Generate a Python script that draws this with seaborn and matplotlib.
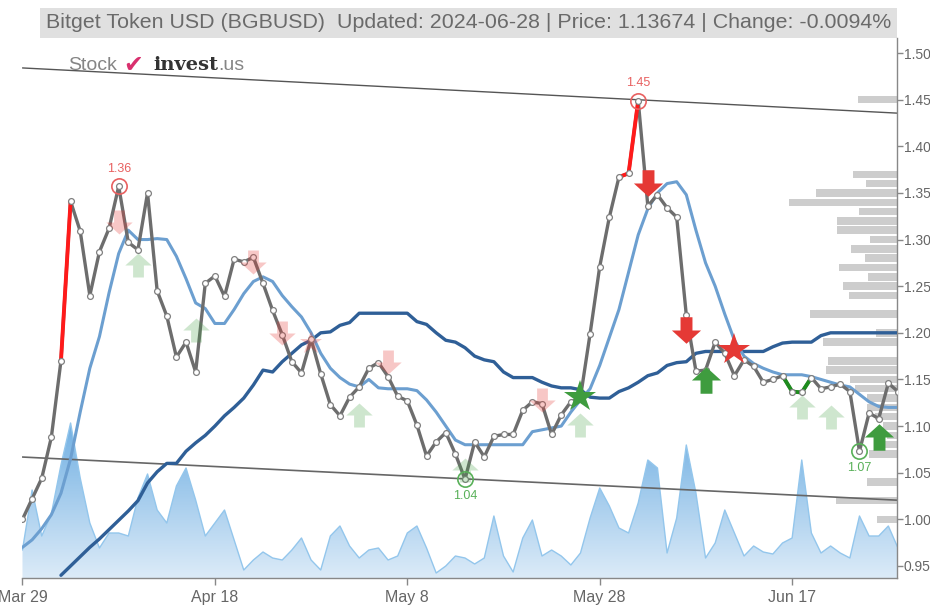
import matplotlib
matplotlib.use("Agg")
import matplotlib.pyplot as plt
import seaborn as sns
import pandas as pd
import numpy as np
from matplotlib.path import Path
from matplotlib.patches import Rectangle
from matplotlib.colors import LinearSegmentedColormap

# 数据
dates = pd.date_range("2024-03-29", "2024-06-28", freq="D")

price = [
    1.000, 1.022, 1.044, 1.088, 1.170, 1.341, 1.309, 1.240, 1.287, 1.312,
    1.357, 1.297, 1.289, 1.350, 1.245, 1.218, 1.174, 1.190, 1.158, 1.253,
    1.261, 1.239, 1.279, 1.276, 1.281, 1.253, 1.224, 1.198, 1.169, 1.157,
    1.193, 1.156, 1.123, 1.111, 1.131, 1.142, 1.162, 1.168, 1.153, 1.132,
    1.127, 1.101, 1.068, 1.083, 1.093, 1.070, 1.043, 1.083, 1.067, 1.089,
    1.091, 1.091, 1.117, 1.126, 1.124, 1.091, 1.112, 1.126, 1.131, 1.199,
    1.271, 1.324, 1.367, 1.371, 1.449, 1.336, 1.348, 1.334, 1.324, 1.219,
    1.159, 1.160, 1.190, 1.178, 1.154, 1.171, 1.164, 1.147, 1.150, 1.154,
    1.137, 1.136, 1.152, 1.140, 1.142, 1.145, 1.137, 1.073, 1.114, 1.108,
    1.146, 1.137,
]

ma_short = [
    0.970, 0.978, 0.990, 1.005, 1.028, 1.065, 1.115, 1.162, 1.196, 1.243,
    1.285, 1.310, 1.300, 1.300, 1.301, 1.300, 1.282, 1.258, 1.232, 1.226,
    1.210, 1.210, 1.225, 1.242, 1.255, 1.260, 1.255, 1.240, 1.228, 1.217,
    1.200, 1.178, 1.162, 1.152, 1.145, 1.142, 1.150, 1.141, 1.140, 1.140,
    1.140, 1.138, 1.128, 1.115, 1.100, 1.085, 1.080, 1.080, 1.080, 1.080,
    1.080, 1.080, 1.080, 1.094, 1.096, 1.098, 1.100, 1.115, 1.128, 1.140,
    1.165, 1.195, 1.225, 1.265, 1.305, 1.333, 1.350, 1.360, 1.362, 1.348,
    1.310, 1.275, 1.250, 1.220, 1.192, 1.175, 1.167, 1.162, 1.158, 1.155,
    1.155, 1.155, 1.153, 1.150, 1.147, 1.144, 1.142, 1.134, 1.126, 1.121,
    1.120, 1.120,
]

ma_long = [
    np.nan, np.nan, np.nan, np.nan, 0.940, 0.950, 0.960, 0.970, 0.979, 0.989,
    0.999, 1.009, 1.020, 1.039, 1.051, 1.060, 1.060, 1.073, 1.082, 1.090,
    1.100, 1.111, 1.120, 1.130, 1.144, 1.160, 1.158, 1.169, 1.178, 1.187,
    1.192, 1.200, 1.201, 1.208, 1.211, 1.221, 1.221, 1.221, 1.221, 1.221,
    1.221, 1.212, 1.209, 1.200, 1.192, 1.190, 1.184, 1.175, 1.171, 1.169,
    1.158, 1.152, 1.152, 1.152, 1.147, 1.143, 1.141, 1.141, 1.139, 1.131,
    1.130, 1.130, 1.137, 1.141, 1.147, 1.154, 1.157, 1.165, 1.168, 1.169,
    1.178, 1.180, 1.180, 1.180, 1.180, 1.180, 1.180, 1.180, 1.185, 1.189,
    1.190, 1.190, 1.190, 1.197, 1.200, 1.200, 1.200, 1.200, 1.200, 1.200,
    1.200, 1.200,
]

volume = [
    28, 88, 42, 64, 113, 155, 100, 55, 30, 45,
    45, 42, 80, 104, 68, 55, 92, 110, 78, 42,
    55, 68, 38, 8, 18, 26, 20, 18, 28, 40,
    18, 8, 42, 52, 32, 20, 28, 30, 18, 22,
    45, 52, 30, 5, 12, 22, 20, 14, 20, 62,
    22, 6, 40, 58, 22, 28, 22, 13, 25, 60,
    90, 72, 50, 45, 75, 118, 110, 25, 60, 133,
    85, 20, 35, 68, 45, 22, 32, 26, 24, 35,
    40, 118, 45, 25, 32, 25, 20, 62, 42, 42,
    52, 30,
]

# 趋势通道
channel_days = [0, 91]
channel_upper = [1.484, 1.4355]
channel_lower = [1.0668, 1.0205]

# 成交量分布（右侧灰色条）
profile_levels = [1.45, 1.37, 1.36, 1.35, 1.34, 1.33, 1.32, 1.31, 1.30, 1.29,
                  1.28, 1.27, 1.26, 1.25, 1.24, 1.22, 1.20, 1.19, 1.17, 1.16,
                  1.15, 1.14, 1.13, 1.12, 1.11, 1.10, 1.09, 1.08, 1.07, 1.04,
                  1.02, 1.00]
profile_volume = [39, 44, 31, 81, 108, 38, 60, 60, 27, 46,
                  32, 58, 29, 54, 48, 87, 21, 74, 69, 71,
                  47, 42, 30, 30, 22, 14, 10, 22, 28, 30,
                  61, 20]

# 彩色线段
red_runs = [[4, 5], [62, 63, 64]]
green_runs = [[79, 80, 81, 82]]

# 信号
weak_sell_days = [10, 24, 27, 38, 54]
weak_sell_levels = [1.319, 1.276, 1.200, 1.169, 1.128]
weak_buy_days = [12, 18, 35, 46, 58, 81, 84]
weak_buy_levels = [1.273, 1.203, 1.112, 1.053, 1.101, 1.120, 1.110]
weak_sell_star_days = [30]
weak_sell_star_levels = [1.189]
strong_sell_days = [65, 69]
strong_sell_levels = [1.361, 1.203]
strong_buy_days = [71, 89]
strong_buy_levels = [1.149, 1.088]
buy_star_days = [58]
buy_star_levels = [1.131]
sell_star_days = [74]
sell_star_levels = [1.182]

# 极值
top_days = [10, 64]
bottom_days = [46, 87]

title = "Bitget Token USD (BGBUSD)  Updated: 2024-06-28 | Price: 1.13674 | Change: -0.0094%"

# ------------------------------------------------------------------
sns.set_style("white")
plt.rcParams["font.family"] = ["Liberation Sans", "DejaVu Sans"]

days = np.arange(len(dates))
df = pd.DataFrame({"day": days, "price": price, "ma_short": ma_short, "ma_long": ma_long})

W, H = 930, 610
fig = plt.figure(figsize=(W / 100, H / 100), dpi=100)
fig.patch.set_facecolor("white")
ax = fig.add_axes([22 / W, (H - 578) / H, (897 - 22) / W, (578 - 38) / H])

ax_vol = ax.twinx()
ax_prof = ax.twiny()
ax_vol.set_zorder(0)
ax_prof.set_zorder(1)
ax.set_zorder(2)
ax.patch.set_visible(False)

xlim = (-0.05, 90.9)
ylim = (0.9371, 1.5161)

# 成交量面积（渐变）
poly = ax_vol.fill_between(days, 0, volume, facecolor="none", edgecolor="none")
grad = np.linspace(0, 1, 256).reshape(-1, 1)
cmap = LinearSegmentedColormap.from_list("vol", ["#dcebf8", "#6eaee2"])
im = ax_vol.imshow(grad, extent=[days[0], days[-1], 0, 160], origin="lower",
                   aspect="auto", cmap=cmap, zorder=1)
im.set_clip_path(poly.get_paths()[0], transform=ax_vol.transData)
ax_vol.plot(days, volume, color="#93c6ec", lw=1.0, zorder=2)
ax_vol.set_xlim(*xlim)
ax_vol.set_ylim(0, 540)
ax_vol.axis("off")

# 成交量分布
ax_prof.barh(profile_levels, profile_volume, height=0.0080, color="#cdcdcd", linewidth=0)
ax_prof.set_xlim(875, 0)
ax_prof.axis("off")

# 趋势通道
ax.plot(channel_days, channel_upper, color="#555555", lw=1.0, zorder=2)
ax.plot(channel_days, channel_lower, color="#666666", lw=1.2, zorder=2)

# 均线
sns.lineplot(data=df, x="day", y="ma_long", ax=ax, color="#2f5f97", lw=2.4, zorder=3)
sns.lineplot(data=df, x="day", y="ma_short", ax=ax, color="#6c9fd0", lw=2.2, zorder=3)

# 价格线
sns.lineplot(data=df, x="day", y="price", ax=ax, color="#6d6d6d", lw=2.4, zorder=4)
for run in red_runs:
    ax.plot(run, [price[i] for i in run], color="#ff1a1a", lw=2.8, zorder=5)
for run in green_runs:
    ax.plot(run, [price[i] for i in run], color="#1e8c1e", lw=2.8, zorder=5)
ax.plot(days, price, ls="none", marker="o", ms=4.2, mfc="white", mec="#808080", mew=0.9, zorder=6)

# 信号标记
up_arrow = Path([(-0.45, -1.0), (0.45, -1.0), (0.45, 0.0), (1.1, 0.0), (0.0, 1.0),
                 (-1.1, 0.0), (-0.45, 0.0), (-0.45, -1.0)], closed=True)
down_arrow = Path([(x, -y) for x, y in up_arrow.vertices], closed=True)

red = "#e53935"
green = "#3f9c3f"
ax.plot(weak_sell_days, weak_sell_levels, ls="none", marker=down_arrow, ms=19,
        color=red, alpha=0.28, mew=0, zorder=7)
ax.plot(weak_buy_days, weak_buy_levels, ls="none", marker=up_arrow, ms=19,
        color=green, alpha=0.25, mew=0, zorder=7)
ax.plot(weak_sell_star_days, weak_sell_star_levels, ls="none", marker="*", ms=17,
        color=red, alpha=0.28, mew=0, zorder=7)
ax.plot(strong_sell_days, strong_sell_levels, ls="none", marker=down_arrow, ms=21,
        color=red, mew=0, zorder=8)
ax.plot(strong_buy_days, strong_buy_levels, ls="none", marker=up_arrow, ms=21,
        color=green, mew=0, zorder=8)
ax.plot(buy_star_days, buy_star_levels, ls="none", marker="*", ms=24,
        color=green, mew=0, zorder=8)
ax.plot(sell_star_days, sell_star_levels, ls="none", marker="*", ms=24,
        color=red, mew=0, zorder=8)

# 极值圈和标签
for d in top_days:
    ax.plot(d, price[d], ls="none", marker="o", ms=11, mfc="none", mec="#e86060", mew=1.2, zorder=9)
    ax.annotate(f"{price[d]:.2f}", (d, price[d]), xytext=(0, 8), textcoords="offset points",
                ha="center", va="bottom", color="#e86060", fontsize=9, zorder=9)
for d in bottom_days:
    ax.plot(d, price[d], ls="none", marker="o", ms=11, mfc="none", mec="#58b058", mew=1.2, zorder=9)
    ax.annotate(f"{price[d]:.2f}", (d, price[d]), xytext=(0, -8), textcoords="offset points",
                ha="center", va="top", color="#58b058", fontsize=9, zorder=9)

# 坐标轴
ax.set_xlim(*xlim)
ax.set_ylim(*ylim)
ax.set_xlabel("")
ax.set_ylabel("")
ax.yaxis.tick_right()
yticks = np.round(np.arange(0.95, 1.501, 0.05), 2)
ax.set_yticks(yticks)
ax.set_yticklabels([f"{t:.2f}" for t in yticks])
xticks = days[::20]
ax.set_xticks(xticks)
ax.set_xticklabels([f"{dates[i]:%b} {dates[i].day}" for i in xticks])
ax.tick_params(axis="both", colors="#888888", labelcolor="#666666", labelsize=11.5,
               length=5, width=1, direction="out")
ax.tick_params(axis="y", pad=1, labelsize=10, length=4)
for side in ["top", "left"]:
    ax.spines[side].set_visible(False)
for side in ["right", "bottom"]:
    ax.spines[side].set_color("#888888")
    ax.spines[side].set_linewidth(1.0)

# 标题栏
fig.patches.append(Rectangle((40 / W, (H - 38) / H), (897 - 40) / W, 30 / H,
                             transform=fig.transFigure, facecolor="#e0e0e0",
                             edgecolor="none", zorder=0))
fig.text(891 / W, 1 - 23 / H, title, ha="right", va="center", color="#6a6a6a", fontsize=15.4)

# 标志
renderer = fig.canvas.get_renderer()
logo_y = 1 - 65 / H
t1 = fig.text(68 / W, logo_y, "Stock", ha="left", va="center", color="#858585", fontsize=14)
t2 = fig.text(123 / W, logo_y, "\u2714", ha="left", va="center", color="#d9306e",
              fontsize=17, family=["DejaVu Sans"])
t3 = fig.text(153 / W, logo_y, "invest", ha="left", va="center", color="#333333",
              fontsize=14, fontweight="bold", family=["DejaVu Serif"])
x_end = t3.get_window_extent(renderer).x1
fig.text(x_end / W, logo_y, ".us", ha="left", va="center", color="#858585", fontsize=14)

fig.savefig("out.png", dpi=100, facecolor="white")
